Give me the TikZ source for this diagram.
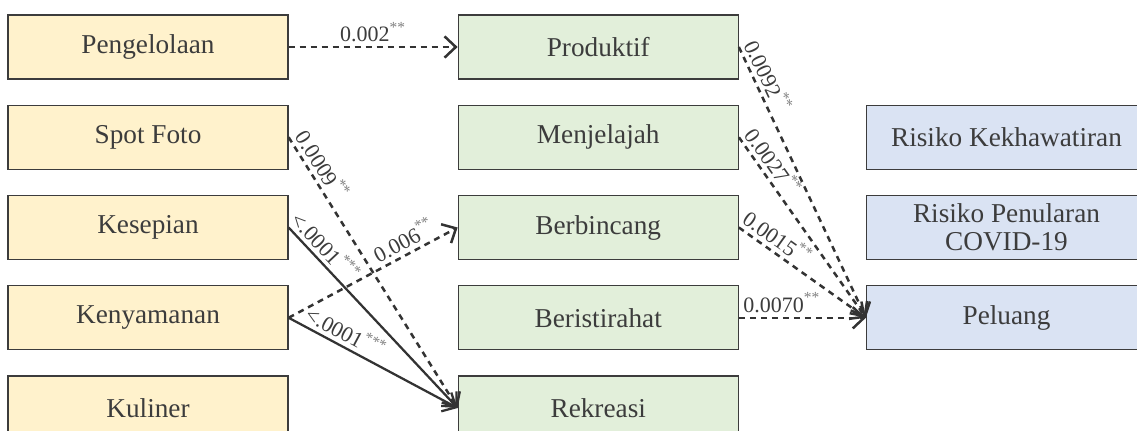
\documentclass[tikz,border=0pt]{standalone}
\usepackage{fontspec}
\setmainfont{Liberation Serif}
\usetikzlibrary{arrows.meta,positioning}
\definecolor{attrfill}{HTML}{FFF2CC}
\definecolor{actfill}{HTML}{E2EFDA}
\definecolor{riskfill}{HTML}{DAE3F3}
\definecolor{ink}{HTML}{3C3C3C}
\definecolor{linkink}{HTML}{333333}
\newcommand{\stars}[1]{\textcolor{gray}{\textsuperscript{#1}}}

\begin{document}
\begin{tikzpicture}[>={Straight Barb[length=4.5pt,width=8.5pt]}, font=\fontsize{10.9}{11.2}\selectfont, text=ink,
  box/.style={draw=ink, line width=0.5pt, minimum width=112pt, minimum height=25.6pt, inner sep=0pt, align=center},
  attr/.style={box, fill=attrfill},
  act/.style={box, fill=actfill},
  risk/.style={box, fill=riskfill},
  node distance=10pt and 67.6pt,
  dashlink/.style={->, draw=linkink, line width=1pt, dash pattern=on 2.4pt off 2pt},
  solidlink/.style={->, draw=linkink, line width=0.9pt},
  coef/.style={font=\fontsize{8.8}{10}\selectfont, inner sep=1.5pt}]
  \useasboundingbox (0,0) rectangle (454.8pt,-172pt);
  \clip (0,0) rectangle (454.8pt,-172pt);
  \node[attr] (peng) at (59.2pt,-18.8pt) {Pengelolaan};
  \node[attr, below=of peng] (spot) {Spot Foto};
  \node[attr, below=of spot] (sepi) {Kesepian};
  \node[attr, below=of sepi] (nyaman) {Kenyamanan};
  \node[attr, below=of nyaman] (kuliner) {Kuliner};
  \node[act, right=of peng] (prod) {Produktif};
  \node[act, below=of prod] (jelajah) {Menjelajah};
  \node[act, below=of jelajah] (bincang) {Berbincang};
  \node[act, below=of bincang] (istirahat) {Beristirahat};
  \node[act, below=of istirahat] (rekreasi) {Rekreasi};
  \node[risk, right=50.8pt of jelajah] (khawatir) {Risiko Kekhawatiran};
  \node[risk, below=of khawatir] (tular) {Risiko Penularan\\COVID-19};
  \node[risk, below=of tular] (peluang) {Peluang};
  \draw[dashlink] (peng) -- node[coef, above]{0.002\stars{**}} (prod);
  \draw[dashlink] (spot.east) -- node[coef, sloped, above, pos=0.13]{0.0009\stars{**}} (rekreasi.west);
  \draw[solidlink] (sepi.east) -- node[coef, sloped, above, pos=0.16]{<.0001\stars{***}} (rekreasi.west);
  \draw[dashlink] (nyaman.east) -- node[coef, sloped, above, pos=0.72]{0.006\stars{**}} (bincang.west);
  \draw[solidlink] (nyaman.east) -- node[coef, sloped, above, pos=0.3]{<.0001\stars{***}} (rekreasi.west);
  \draw[dashlink] (prod.east) -- node[coef, sloped, above, pos=0.13]{0.0092\stars{**}} (peluang.west);
  \draw[dashlink] (jelajah.east) -- node[coef, sloped, above, pos=0.18]{0.0027\stars{**}} (peluang.west);
  \draw[dashlink] (bincang.east) -- node[coef, sloped, above, pos=0.24]{0.0015\stars{**}} (peluang.west);
  \draw[dashlink] (istirahat) -- node[coef, above, pos=0.34]{0.0070\stars{**}} (peluang);
\end{tikzpicture}
\end{document}
